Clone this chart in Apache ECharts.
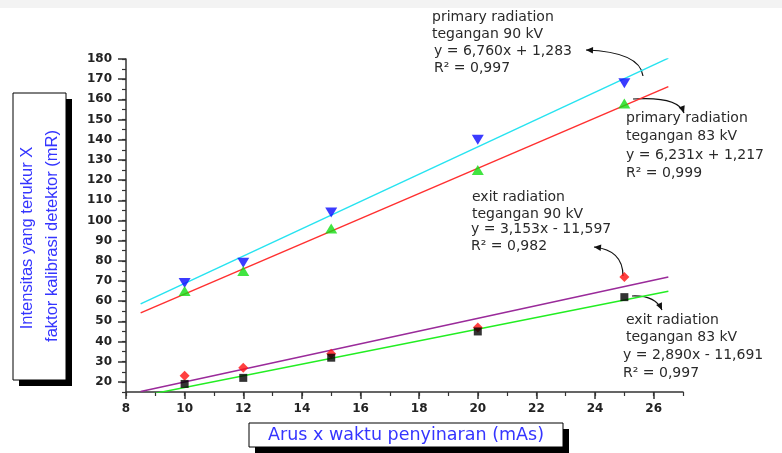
<!DOCTYPE html>
<html>
<head>
<meta charset="utf-8">
<script src="https://cdn.jsdelivr.net/npm/echarts@6.0.0/dist/echarts.min.js"></script>
<style>
html,body{margin:0;padding:0;background:#fff;}
#chart{width:782px;height:453px;}
</style>
</head>
<body>
<div id="chart"></div>
<script>
// ---- data ----
const xValues = [10, 12, 15, 20, 25];
const primary90 = [69, 79, 104, 140, 168];
const primary83 = [65, 75, 96, 125, 158];
const exit90 = [23, 27, 34, 47, 72];
const exit83 = [19, 22, 32, 45, 62];

// regression lines (end points)
const fitX = [8.5, 26.5];
const fitPrimary90 = [58.7, 180.4];
const fitPrimary83 = [54.2, 166.3];
const fitExit90 = [15.2, 72.0];
const fitExit83 = [12.9, 64.9];

const xTicks = [8, 10, 12, 14, 16, 18, 20, 22, 24, 26];
const yTicks = [20, 30, 40, 50, 60, 70, 80, 90, 100, 110, 120, 130, 140, 150, 160, 170, 180];

const xTitle = 'Arus x waktu penyinaran (mAs)';
const yTitle1 = 'Intensitas yang terukur X';
const yTitle2 = 'faktor kalibrasi detektor (mR)';

const notes = [
  { lines: ['primary radiation', 'tegangan 90 kV', 'y = 6,760x + 1,283', 'R\u00B2 = 0,997'], x: [432, 432, 434, 434], y: [17, 34, 51, 68] },
  { lines: ['primary radiation', 'tegangan 83 kV', 'y = 6,231x + 1,217', 'R\u00B2 = 0,999'], x: [626, 626, 626, 626], y: [118, 136, 155, 173] },
  { lines: ['exit radiation', 'tegangan 90 kV', 'y = 3,153x - 11,597', 'R\u00B2 = 0,982'], x: [472, 472, 471, 471], y: [197, 214, 229, 246] },
  { lines: ['exit radiation', 'tegangan 83 kV', 'y = 2,890x - 11,691', 'R\u00B2 = 0,997'], x: [626, 626, 623, 623], y: [320, 337, 355, 373] }
];

function pairs(xs, ys) { return xs.map((x, i) => [x, ys[i]]); }

const chart = echarts.init(document.getElementById('chart'), null, { renderer: 'canvas' });

const axisColor = '#333';
const labelStyle = { color: '#222', fontFamily: 'DejaVu Sans', fontWeight: 'bold', fontSize: 12 };

const graphics = [];
// faint top strip
graphics.push({ type: 'rect', shape: { x: 0, y: 0, width: 782, height: 8 }, style: { fill: '#f3f3f3' }, silent: true });
// y title box
graphics.push({ type: 'rect', shape: { x: 19, y: 99, width: 53, height: 287 }, style: { fill: '#000' } });
graphics.push({ type: 'rect', shape: { x: 13, y: 93, width: 53, height: 287 }, style: { fill: '#fff', stroke: '#000', lineWidth: 1 } });
graphics.push({ type: 'text', x: 27, y: 238, rotation: Math.PI / 2, style: { text: yTitle1, fill: '#3535ff', font: '16.5px "Liberation Sans"', textAlign: 'center', textVerticalAlign: 'middle' } });
graphics.push({ type: 'text', x: 52, y: 236, rotation: Math.PI / 2, style: { text: yTitle2, fill: '#3535ff', font: '16.5px "Liberation Sans"', textAlign: 'center', textVerticalAlign: 'middle' } });
// x title box
graphics.push({ type: 'rect', shape: { x: 255, y: 429, width: 314, height: 24 }, style: { fill: '#000' } });
graphics.push({ type: 'rect', shape: { x: 249, y: 423, width: 314, height: 24 }, style: { fill: '#fff', stroke: '#000', lineWidth: 1 } });
graphics.push({ type: 'text', x: 406, y: 435, style: { text: xTitle, fill: '#3535ff', font: '17.5px "DejaVu Sans"', textAlign: 'center', textVerticalAlign: 'middle' } });

// annotation texts
notes.forEach(n => {
  n.lines.forEach((t, i) => {
    graphics.push({ type: 'text', x: n.x[i], y: n.y[i], style: { text: t, fill: '#2a2a2a', font: '14px "DejaVu Sans"', textAlign: 'left', textVerticalAlign: 'middle' } });
  });
});

// curved arrows
function arrow(x1, y1, cx, cy, x2, y2) {
  graphics.push({ type: 'bezierCurve', shape: { x1: x1, y1: y1, x2: x2, y2: y2, cpx1: cx, cpy1: cy }, style: { stroke: '#111', lineWidth: 1.2, fill: null } });
  const ang = Math.atan2(y2 - cy, x2 - cx);
  const L = 7, W = 3.2;
  const bx = x2 - L * Math.cos(ang), by = y2 - L * Math.sin(ang);
  const px = -Math.sin(ang) * W, py = Math.cos(ang) * W;
  graphics.push({ type: 'polygon', shape: { points: [[x2, y2], [bx + px, by + py], [bx - px, by - py]] }, style: { fill: '#111' } });
}
arrow(643, 76, 640, 52, 586, 50);
arrow(633, 99, 678, 96, 684, 113);
arrow(623, 276, 623, 250, 594, 247);
arrow(632, 296, 655, 295, 662, 310);

const lineStyleBase = { width: 1.5 };

const option = {
  backgroundColor: '#fff',
  animation: false,
  grid: { left: 126, top: 59, width: 557, height: 333 },
  xAxis: [
    {
      type: 'value', min: 8, max: 27, interval: 2,
      axisLine: { show: true, onZero: false, lineStyle: { color: axisColor, width: 1.5 } },
      axisTick: { show: true, length: 7, customValues: xTicks, lineStyle: { color: axisColor, width: 1.5 } },
      axisLabel: Object.assign({ margin: 11, customValues: xTicks }, labelStyle),
      splitLine: { show: false }
    },
    {
      type: 'value', min: 8, max: 27, interval: 1, position: 'bottom',
      axisLine: { show: false },
      axisTick: { show: true, length: 4, lineStyle: { color: axisColor, width: 1.2 } },
      axisLabel: { show: false },
      splitLine: { show: false }
    }
  ],
  yAxis: [
    {
      type: 'value', min: 15, max: 180, interval: 5,
      axisLine: { show: true, onZero: false, lineStyle: { color: axisColor, width: 1.5 } },
      axisTick: { show: true, length: 8, customValues: yTicks, lineStyle: { color: axisColor, width: 1.5 } },
      axisLabel: Object.assign({ margin: 14, customValues: yTicks }, labelStyle),
      splitLine: { show: false }
    },
    {
      type: 'value', min: 15, max: 180, interval: 5, position: 'left',
      axisLine: { show: false },
      axisTick: { show: true, length: 4, lineStyle: { color: axisColor, width: 1.2 } },
      axisLabel: { show: false },
      splitLine: { show: false }
    }
  ],
  series: [
    { name: 'fit primary 90', type: 'line', data: pairs(fitX, fitPrimary90), symbol: 'none', lineStyle: Object.assign({ color: '#27e3f0' }, lineStyleBase), z: 2 },
    { name: 'fit primary 83', type: 'line', data: pairs(fitX, fitPrimary83), symbol: 'none', lineStyle: Object.assign({ color: '#ff3030' }, lineStyleBase), z: 2 },
    { name: 'fit exit 90', type: 'line', data: pairs(fitX, fitExit90), symbol: 'none', lineStyle: Object.assign({ color: '#9a2a9a' }, lineStyleBase), z: 2 },
    { name: 'fit exit 83', type: 'line', data: pairs(fitX, fitExit83), symbol: 'none', lineStyle: Object.assign({ color: '#22ee22' }, lineStyleBase), z: 2 },
    { name: 'primary 90 kV', type: 'scatter', data: pairs(xValues, primary90), symbol: 'triangle', symbolRotate: 180, symbolSize: [12, 10], itemStyle: { color: '#0a0aff' }, z: 5 },
    { name: 'primary 83 kV', type: 'scatter', data: pairs(xValues, primary83), symbol: 'triangle', symbolSize: [12, 10], itemStyle: { color: '#11dd11' }, z: 5 },
    { name: 'exit 90 kV', type: 'scatter', data: pairs(xValues, exit90), symbol: 'diamond', symbolSize: 10, itemStyle: { color: '#ff1010' }, z: 5 },
    { name: 'exit 83 kV', type: 'scatter', data: pairs(xValues, exit83), symbol: 'rect', symbolSize: 8, itemStyle: { color: '#000' }, z: 5 }
  ],
  graphic: graphics
};
chart.setOption(option);
</script>
</body>
</html>
